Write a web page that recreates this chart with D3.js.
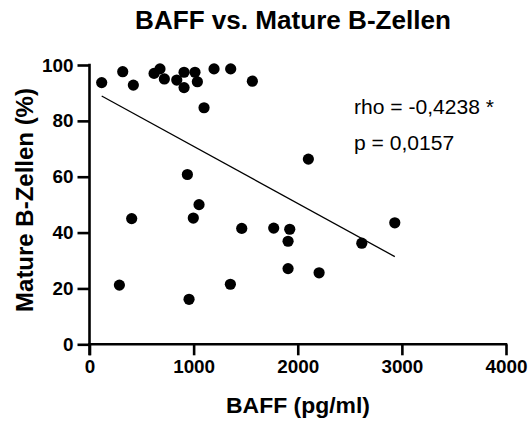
<!DOCTYPE html>
<html><head><meta charset="utf-8">
<script src="https://cdn.jsdelivr.net/npm/d3@7"></script>
<style>body{margin:0;background:#fff}svg{display:block}text{font-family:"Liberation Sans",Arial,sans-serif}</style>
</head><body>
<script>
const baff = [117,319,421,620,677,719,838,908,908,1013,1036,1100,1196,1356,1564,940,1052,405,997,1462,1769,1923,1907,1907,287,1353,956,2205,2615,2932,2102];
const mature = [93.7,97.6,92.8,97.0,98.6,95.0,94.6,97.4,91.9,97.4,94.0,84.7,98.6,98.6,94.2,60.8,50.0,45.0,45.2,41.5,41.6,41.2,36.9,27.1,21.2,21.5,16.1,25.6,36.2,43.5,66.3];
const fitX = [117,2932];
const fitY = [88.9,31.4];
const xTicks = [0,1000,2000,3000,4000];
const yTicks = [0,20,40,60,80,100];
const title = "BAFF vs. Mature B-Zellen";
const xLabel = "BAFF (pg/ml)";
const yLabel = "Mature B-Zellen (%)";
const stats = ["rho = -0,4238 *","p = 0,0157"];

const W=532,H=423;
const svg=d3.select("body").append("svg").attr("width",W).attr("height",H);
const x=d3.scaleLinear().domain([0,4000]).range([89.5,506]);
const y=d3.scaleLinear().domain([0,100]).range([344.3,65]);

// font size that gives the text a wanted width
function fitSize(str, weight, target){
  const t=svg.append("text").style("font-size","10px").style("font-weight",weight).text(str);
  const w=t.node().getComputedTextLength(); t.remove();
  return 10*target/w;
}
const tickSize=fitSize("4000","bold",42);

const xa=svg.append("g").attr("transform","translate(0,344.3)")
  .call(d3.axisBottom(x).tickValues(xTicks).tickSize(11).tickPadding(4).tickFormat(d3.format("d")));
const ya=svg.append("g").attr("transform","translate(89.5,0)")
  .call(d3.axisLeft(y).tickValues(yTicks).tickSize(12).tickPadding(4));
[xa,ya].forEach(a=>{
  a.select(".domain").attr("stroke","#000").attr("stroke-width",2.6);
  a.selectAll(".tick line").attr("stroke","#000").attr("stroke-width",2.6);
  a.selectAll(".tick text").attr("fill","#000").style("font-size",tickSize+"px").style("font-weight","bold");
});
xa.selectAll(".tick text").attr("dy","0.72em");
xa.select(".domain").attr("d",`M${x(0)-1.3},0H${x(4000)+1.3}`);
ya.select(".domain").attr("d",`M0,${y(100)-1.3}V${y(0)+11}`);

svg.append("line").attr("x1",x(fitX[0])).attr("y1",y(fitY[0])).attr("x2",x(fitX[1])).attr("y2",y(fitY[1]))
  .attr("stroke","#000").attr("stroke-width",1.3);

svg.append("g").selectAll("circle").data(baff.map((v,i)=>[v,mature[i]])).join("circle")
  .attr("cx",d=>x(d[0])).attr("cy",d=>y(d[1])).attr("r",5.6).attr("fill","#000");

svg.append("text").attr("x",293).attr("y",29).attr("text-anchor","middle")
  .style("font-size",fitSize(title,"bold",316)+"px").style("font-weight","bold").text(title);
svg.append("text").attr("x",298).attr("y",413).attr("text-anchor","middle")
  .style("font-size",fitSize(xLabel,"bold",144)+"px").style("font-weight","bold").text(xLabel);
svg.append("text").attr("transform","translate(33,200) rotate(-90)").attr("text-anchor","middle")
  .style("font-size",fitSize(yLabel,"bold",224)+"px").style("font-weight","bold").text(yLabel);
const statSize=fitSize(stats[0],"normal",140);
svg.append("g").selectAll("text").data(stats).join("text")
  .attr("x",354).attr("y",(d,i)=>[114.3,150][i]).style("font-size",statSize+"px").text(d=>d);
</script>
</body></html>
